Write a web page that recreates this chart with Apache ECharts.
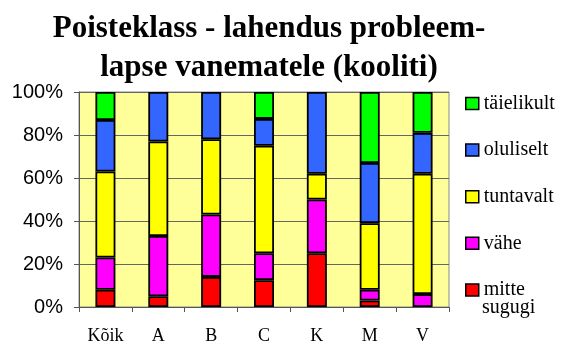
<!DOCTYPE html>
<html>
<head>
<meta charset="utf-8">
<script src="https://cdn.jsdelivr.net/npm/echarts@6/dist/echarts.min.js"></script>
<style>html,body{margin:0;padding:0;background:#fff}#c{width:565px;height:345px}</style>
</head>
<body>
<div id="c"></div>
<script>
var categories = ['Kõik', 'A', 'B', 'C', 'K', 'M', 'V'];
var mitteSugugi = [8, 5, 14, 12.5, 25, 3, 0];
var vahe = [15, 28, 29, 12.5, 25, 5, 6];
var tuntavalt = [40, 44, 35, 50, 12, 31, 56];
var oluliselt = [24, 23, 22, 12.5, 38, 28, 19];
var taielikult = [13, 0, 0, 12.5, 0, 33, 19];
var yTicks = [0, 20, 40, 60, 80, 100];

var seriesDefs = [
  { name: 'mitte sugugi', data: mitteSugugi, color: '#FF0000' },
  { name: 'vähe', data: vahe, color: '#FF00FF' },
  { name: 'tuntavalt', data: tuntavalt, color: '#FFFF00' },
  { name: 'oluliselt', data: oluliselt, color: '#3366FF' },
  { name: 'täielikult', data: taielikult, color: '#00FF00' }
];

var chart = echarts.init(document.getElementById('c'), null, { renderer: 'canvas' });
var serif = '"Liberation Serif", "Times New Roman", serif';
var sans = '"Liberation Sans", Arial, sans-serif';

chart.setOption({
  animation: false,
  backgroundColor: '#ffffff',
  title: {
    text: 'Poisteklass - lahendus probleem-\nlapse vanematele (kooliti)',
    left: 264, top: 4, textAlign: 'center',
    textStyle: { fontFamily: serif, fontWeight: 'bold', fontSize: 31, lineHeight: 39, color: '#000' }
  },
  grid: {
    left: 79, right: 116, top: 92, bottom: 37,
    show: true, backgroundColor: '#FFFF99', borderColor: '#888888', borderWidth: 1
  },
  legend: [{
    data: ['täielikult', 'oluliselt', 'tuntavalt', 'vähe'],
    orient: 'vertical', left: 460, top: 88.5,
    itemWidth: 13, itemHeight: 12, itemGap: 26.6,
    selectedMode: false, icon: 'rect',
    itemStyle: { borderColor: '#000', borderWidth: 1.5 },
    textStyle: { fontFamily: serif, fontSize: 20, lineHeight: 20, color: '#000' }
  }, {
    data: ['mitte sugugi'],
    orient: 'vertical', left: 460, top: 275,
    itemWidth: 13, itemHeight: 12,
    selectedMode: false, icon: 'rect',
    formatter: function () { return 'mitte'; },
    itemStyle: { borderColor: '#000', borderWidth: 1.5 },
    textStyle: { fontFamily: serif, fontSize: 20, lineHeight: 20, color: '#000' }
  }],
  graphic: [{
    type: 'text', left: 482, top: 298,
    style: { text: 'sugugi', fontFamily: serif, fontSize: 20, fill: '#000' }
  }],
  xAxis: {
    type: 'category', data: categories,
    axisLine: { lineStyle: { color: '#555', width: 1 } },
    axisTick: { show: true, length: 5, lineStyle: { color: '#555' } },
    axisLabel: { fontFamily: serif, fontSize: 18, color: '#000', margin: 20 }
  },
  yAxis: {
    type: 'value', min: 0, max: 100, interval: 20,
    axisLine: { show: true, lineStyle: { color: '#555', width: 1 } },
    axisTick: { show: true, length: 5, lineStyle: { color: '#555' } },
    splitLine: { show: true, lineStyle: { color: '#666', width: 1 } },
    axisLabel: {
      fontFamily: sans, fontSize: 20, color: '#000', margin: 16,
      formatter: function (v) { return yTicks.indexOf(v) >= 0 ? v + '%' : ''; }
    }
  },
  series: seriesDefs.map(function (s) {
    return {
      name: s.name, type: 'bar', stack: 'total', barWidth: 20,
      data: s.data.map(function (v) { return v === 0 ? '-' : v; }),
      itemStyle: { color: s.color, borderColor: '#000', borderWidth: 1.8 }
    };
  })
});
</script>
</body>
</html>
